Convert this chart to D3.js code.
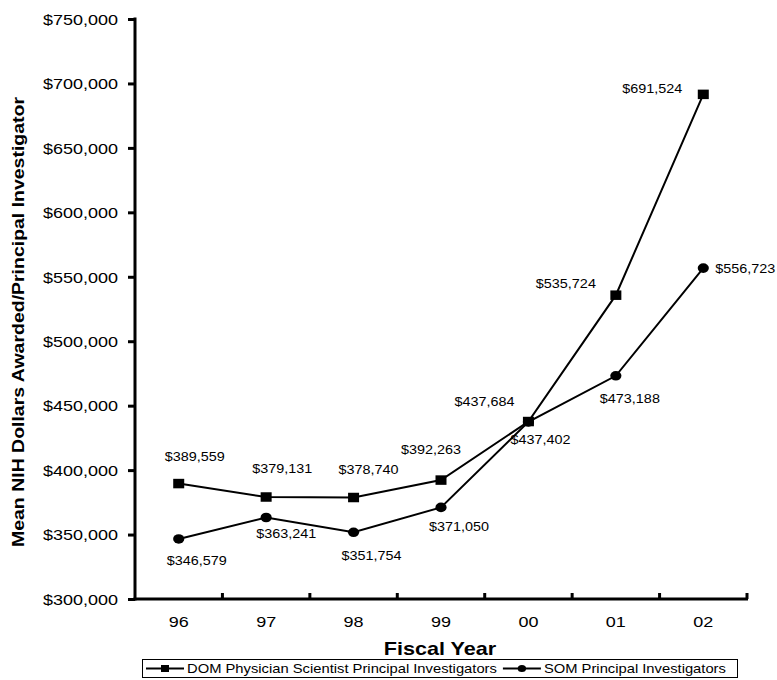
<!DOCTYPE html>
<html>
<head>
<meta charset="utf-8">
<script src="https://cdn.jsdelivr.net/npm/d3@7/dist/d3.min.js"></script>
<style>
  html, body { margin: 0; padding: 0; background: #fff; }
  svg { display: block; font-family: Arial, "Liberation Sans", Helvetica, sans-serif; }
</style>
</head>
<body>
<svg id="chart" width="777" height="680"></svg>
<script>
// ---- data ----
const years = ["96", "97", "98", "99", "00", "01", "02"];
const domValues = [389559, 379131, 378740, 392263, 437684, 535724, 691524];
const somValues = [346579, 363241, 351754, 371050, 437402, 473188, 556723];
const yTicks = [300000, 350000, 400000, 450000, 500000, 550000, 600000, 650000, 700000, 750000];
const seriesNames = ["DOM Physician Scientist Principal Investigators", "SOM Principal Investigators"];
const xTitle = "Fiscal Year";
const yTitle = "Mean NIH Dollars Awarded/Principal Investigator";

// ---- layout (label offsets relative to points, px) ----
const domLabelOffsets = [[16, -23], [16, -24], [15, -24], [-10, -26], [-44, -16], [-50, -7], [-51, -1]];
const somLabelOffsets = [[18, 26], [20, 21], [18, 28], [18, 24], [12, 22], [14, 27], [12, 4.5]];
const somLabelAnchor = ["middle", "middle", "middle", "middle", "middle", "middle", "start"];
const SX = 1.2; // horizontal text stretch

const svg = d3.select("#chart");
const pLeft = 135, pRight = 747, pTop = 19, pBottom = 599;

const x = d3.scaleBand().domain(years).range([pLeft, pRight]).padding(0);
const y = d3.scaleLinear().domain([300000, 750000]).range([pBottom, pTop]);
const cx = d => x(d) + x.bandwidth() / 2;
const fmt = d3.format("$,");

// y axis
const yAxis = svg.append("g")
  .attr("transform", `translate(${pLeft},0)`)
  .call(d3.axisLeft(y).tickValues(yTicks).tickSize(7).tickSizeOuter(0).tickFormat(fmt));
yAxis.select(".domain").remove();
yAxis.attr("font-family", null).attr("font-size", null);
yAxis.selectAll(".tick line").attr("stroke", "#000").attr("stroke-width", 3);
yAxis.selectAll(".tick text")
  .attr("x", null).attr("dy", "0.35em")
  .attr("transform", `translate(-17,0) scale(${SX},1)`)
  .attr("font-size", 15).attr("fill", "#000").attr("text-anchor", "end");

svg.append("line").attr("x1", pLeft).attr("x2", pLeft).attr("y1", pTop - 1.5).attr("y2", pBottom + 1.5)
  .attr("stroke", "#000").attr("stroke-width", 3);

// x axis
svg.append("line").attr("x1", pLeft - 1.5).attr("x2", pRight + 1).attr("y1", pBottom).attr("y2", pBottom)
  .attr("stroke", "#000").attr("stroke-width", 3);
svg.append("g").selectAll("line").data(years).join("line")
  .attr("x1", d => x(d) + x.bandwidth()).attr("x2", d => x(d) + x.bandwidth())
  .attr("y1", pBottom).attr("y2", pBottom - 6)
  .attr("stroke", "#000").attr("stroke-width", 3);
svg.append("g").selectAll("text").data(years).join("text")
  .attr("transform", d => `translate(${cx(d)},627) scale(${SX},1)`)
  .attr("text-anchor", "middle").attr("font-size", 15).attr("fill", "#000")
  .text(d => d);

// titles
svg.append("text")
  .attr("transform", `translate(440,655) scale(${SX},1)`)
  .attr("text-anchor", "middle").attr("font-size", 18).attr("font-weight", "bold")
  .text(xTitle);
svg.append("text")
  .attr("transform", "translate(24,322) rotate(-90)")
  .attr("text-anchor", "middle").attr("font-size", 16).attr("font-weight", "bold")
  .attr("textLength", 450).attr("lengthAdjust", "spacingAndGlyphs")
  .text(yTitle);

// lines
const line = d3.line().x((d, i) => cx(years[i])).y(d => y(d));
svg.append("path").datum(domValues).attr("d", line)
  .attr("fill", "none").attr("stroke", "#000").attr("stroke-width", 2);
svg.append("path").datum(somValues).attr("d", line)
  .attr("fill", "none").attr("stroke", "#000").attr("stroke-width", 2);

// markers
svg.append("g").selectAll("rect").data(domValues).join("rect")
  .attr("x", (d, i) => cx(years[i]) - 5.5).attr("y", d => y(d) - 4.75)
  .attr("width", 11).attr("height", 9.5).attr("fill", "#000");
svg.append("g").selectAll("ellipse").data(somValues).join("ellipse")
  .attr("cx", (d, i) => cx(years[i])).attr("cy", d => y(d))
  .attr("rx", 5.6).attr("ry", 4.8).attr("fill", "#000");

// data labels
svg.append("g").selectAll("text").data(domValues).join("text")
  .attr("transform", (d, i) => `translate(${cx(years[i]) + domLabelOffsets[i][0]},${y(d) + domLabelOffsets[i][1]}) scale(${SX},1)`)
  .attr("text-anchor", "middle").attr("font-size", 12).attr("fill", "#000")
  .text(d => fmt(d));
svg.append("g").selectAll("text").data(somValues).join("text")
  .attr("transform", (d, i) => `translate(${cx(years[i]) + somLabelOffsets[i][0]},${y(d) + somLabelOffsets[i][1]}) scale(${SX},1)`)
  .attr("text-anchor", (d, i) => somLabelAnchor[i]).attr("font-size", 12).attr("fill", "#000")
  .text(d => fmt(d));

// legend
const lg = svg.append("g");
lg.append("rect").attr("x", 142.5).attr("y", 659.5).attr("width", 595).attr("height", 18)
  .attr("fill", "#fff").attr("stroke", "#000").attr("stroke-width", 1);
const ly = 668.5;
let lx = 146;
seriesNames.forEach((name, k) => {
  lg.append("line").attr("x1", lx).attr("x2", lx + 38).attr("y1", ly).attr("y2", ly)
    .attr("stroke", "#000").attr("stroke-width", 2);
  if (k === 0) {
    lg.append("rect").attr("x", lx + 19 - 4).attr("y", ly - 3.5).attr("width", 8).attr("height", 7).attr("fill", "#000");
  } else {
    lg.append("ellipse").attr("cx", lx + 19).attr("cy", ly).attr("rx", 4.2).attr("ry", 3.6).attr("fill", "#000");
  }
  const t = lg.append("text")
    .attr("transform", `translate(${lx + 41},${ly + 4.3}) scale(${SX},1)`)
    .attr("font-size", 12.3).attr("fill", "#000").text(name);
  lx = lx + 41 + t.node().getComputedTextLength() * SX + 6;
});
</script>
</body>
</html>
